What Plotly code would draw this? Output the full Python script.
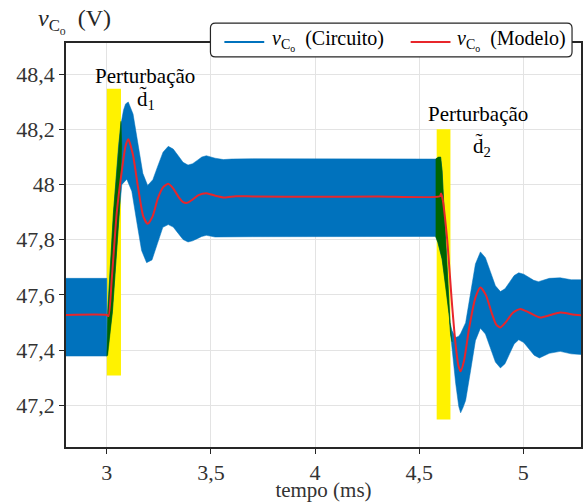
import plotly.graph_objects as go

# ---------------- data ----------------
# Circuit ripple band (upper / lower envelopes), time in ms, voltage in V
band_upper_t = [2.80, 3.000, 3.0001, 3.004, 3.032, 3.056, 3.068, 3.080, 3.090, 3.103,
                3.126, 3.150, 3.173, 3.196, 3.221, 3.245, 3.270, 3.295, 3.319, 3.343, 3.366, 3.390,
                3.412, 3.434, 3.456, 3.478, 3.520, 3.560, 3.600, 3.700, 4.579,
                4.592, 4.603, 4.610, 4.620, 4.635, 4.648, 4.658, 4.675, 4.690, 4.699,
                4.723, 4.747, 4.770, 4.794, 4.818, 4.842, 4.866, 4.890, 4.912, 4.934, 4.956, 4.978,
                5.002, 5.026, 5.050, 5.073, 5.125, 5.177, 5.230, 5.290]
band_upper_v = [47.660, 47.660, 47.390, 47.540, 47.900, 48.140, 48.220, 48.270, 48.293, 48.300,
                48.256, 48.149, 48.041, 47.997, 48.018, 48.068, 48.118, 48.139, 48.129, 48.105, 48.081, 48.071,
                48.076, 48.088, 48.100, 48.105, 48.096, 48.091, 48.093, 48.094, 48.093,
                48.098, 48.100, 48.050, 47.900, 47.680, 47.500, 47.470, 47.445, 47.450, 47.460,
                47.499, 47.606, 47.712, 47.756, 47.735, 47.684, 47.633, 47.612, 47.622, 47.646, 47.670, 47.680,
                47.675, 47.664, 47.653, 47.648, 47.660, 47.662, 47.655, 47.655]
band_lower_t = [2.80, 3.000, 3.027, 3.060, 3.072, 3.096, 3.120, 3.143, 3.167, 3.191,
                3.217, 3.243, 3.269, 3.295, 3.319, 3.342, 3.366, 3.390, 3.412, 3.434, 3.456, 3.478,
                3.520, 3.560, 3.700, 4.579, 4.590, 4.610, 4.630, 4.645, 4.651, 4.675, 4.690, 4.699, 4.710,
                4.723, 4.747, 4.770, 4.794, 4.818, 4.842, 4.866, 4.890, 4.912, 4.934, 4.956, 4.978,
                5.002, 5.027, 5.052, 5.077, 5.125, 5.177, 5.230, 5.290]
band_lower_v = [47.378, 47.378, 47.540, 47.900, 48.000, 48.020, 47.976, 47.869, 47.761, 47.717,
                47.727, 47.786, 47.845, 47.855, 47.846, 47.824, 47.801, 47.792, 47.796, 47.804, 47.812, 47.816,
                47.810, 47.812, 47.811, 47.812, 47.790, 47.730, 47.620, 47.520, 47.455, 47.280, 47.195, 47.172, 47.190,
                47.217, 47.326, 47.434, 47.479, 47.458, 47.407, 47.356, 47.335, 47.350, 47.386, 47.422, 47.437,
                47.427, 47.404, 47.381, 47.371, 47.388, 47.395, 47.386, 47.383]

# Circuit waveform during the perturbations (dark green region)
green1_t = [3.000, 3.005, 3.032, 3.056, 3.068, 3.072, 3.060, 3.027, 3.004]
green1_v = [47.377, 47.540, 47.900, 48.140, 48.230, 48.140, 47.900, 47.540, 47.380]
green2_t = [4.579, 4.592, 4.603, 4.610, 4.620, 4.635, 4.648, 4.656, 4.658, 4.651, 4.645, 4.630, 4.610, 4.590, 4.579]
green2_v = [48.093, 48.100, 48.100, 48.050, 47.900, 47.680, 47.500, 47.440, 47.430, 47.455, 47.520, 47.620, 47.730, 47.790, 47.812]

# Averaged model
model_t = [2.80, 3.000, 3.008, 3.024, 3.048, 3.072, 3.090, 3.103, 3.125, 3.150, 3.175, 3.196, 3.220,
           3.245, 3.270, 3.295, 3.320, 3.345, 3.366, 3.386, 3.410, 3.440, 3.478, 3.520, 3.566, 3.620,
           3.700, 4.000, 4.300, 4.600, 4.605, 4.612, 4.634, 4.658, 4.675, 4.688, 4.699, 4.715, 4.740,
           4.770, 4.794, 4.820, 4.850, 4.870, 4.890, 4.915, 4.950, 4.986, 5.030, 5.081, 5.130, 5.177,
           5.230, 5.290]
model_v = [47.527, 47.527, 47.523, 47.660, 47.900, 48.050, 48.140, 48.165, 48.110, 47.990, 47.885, 47.858, 47.885,
           47.950, 47.990, 48.003, 47.985, 47.955, 47.937, 47.934, 47.945, 47.962, 47.969, 47.960, 47.953, 47.958,
           47.957, 47.956, 47.957, 47.958, 47.968, 47.950, 47.804, 47.563, 47.419, 47.345, 47.323, 47.360, 47.480,
           47.590, 47.627, 47.600, 47.530, 47.492, 47.482, 47.500, 47.535, 47.549, 47.535, 47.518, 47.527, 47.536,
           47.530, 47.525]

# Perturbation windows (yellow)
pert_t0 = [3.000, 4.584]
pert_t1 = [3.068, 4.650]
pert_v0 = [47.307, 47.148]
pert_v1 = [48.348, 48.201]

x_tickvals = [3, 3.5, 4, 4.5, 5]
x_ticktext = ["3", "3,5", "4", "4,5", "5"]
y_tickvals = [47.2, 47.4, 47.6, 47.8, 48.0, 48.2, 48.4]
y_ticktext = ["47,2", "47,4", "47,6", "47,8", "48", "48,2", "48,4"]

series_names = ["<i>v</i><sub>C<sub>o</sub></sub>  (Circuito)", "<i>v</i><sub>C<sub>o</sub></sub>  (Modelo)"]

x_range = [2.804, 5.277]
y_range = [47.048, 48.514]

BLUE = "#0072BD"
RED = "#E8262B"
GREEN = "#006400"
YELLOW = "#FFF200"
AXC = "#262626"
FONT = "Liberation Serif, Times New Roman, serif"

fig = go.Figure()

# yellow windows
for a, b, lo, hi in zip(pert_t0, pert_t1, pert_v0, pert_v1):
    fig.add_trace(go.Scatter(x=[a, b, b, a, a], y=[lo, lo, hi, hi, lo], mode="lines",
                             fill="toself", fillcolor=YELLOW, line=dict(width=0),
                             showlegend=False, hoverinfo="skip"))

# blue ripple band
fig.add_trace(go.Scatter(x=band_upper_t + band_lower_t[::-1],
                         y=band_upper_v + band_lower_v[::-1],
                         mode="lines", fill="toself", fillcolor=BLUE,
                         line=dict(width=0.5, color=BLUE), name=series_names[0],
                         showlegend=False, hoverinfo="skip"))

# green transition regions
for gt, gv in ((green1_t, green1_v), (green2_t, green2_v)):
    fig.add_trace(go.Scatter(x=gt, y=gv, mode="lines", fill="toself", fillcolor=GREEN,
                             line=dict(width=0.5, color=GREEN), showlegend=False, hoverinfo="skip"))

# model
fig.add_trace(go.Scatter(x=model_t, y=model_v, mode="lines", name=series_names[1],
                         line=dict(color=RED, width=2, shape="spline", smoothing=0.6),
                         showlegend=False))

# pixel -> paper helpers for the legend box
L, R, T, B = 66.0, 583.0, 43.0, 449.0
def px(x):
    return (x - L) / (R - L)
def py(y):
    return (B - y) / (B - T)

bx0, bx1, by0, by1 = px(211), px(574), py(57), py(23)
rx, ry = 5 / (R - L), 5 / (B - T)
path = (f"M {bx0+rx},{by1} L {bx1-rx},{by1} Q {bx1},{by1} {bx1},{by1-ry} "
        f"L {bx1},{by0+ry} Q {bx1},{by0} {bx1-rx},{by0} L {bx0+rx},{by0} "
        f"Q {bx0},{by0} {bx0},{by0+ry} L {bx0},{by1-ry} Q {bx0},{by1} {bx0+rx},{by1} Z")
fig.add_shape(type="path", path=path, xref="paper", yref="paper",
              fillcolor="white", line=dict(color=AXC, width=1.2), layer="above")

# legend samples and labels
for (x0, x1, xt), col, name in zip([(225, 265, 271), (412, 452, 457)], [BLUE, RED], series_names):
    fig.add_shape(type="line", xref="paper", yref="paper", x0=px(x0), x1=px(x1),
                  y0=py(42), y1=py(42), line=dict(color=col, width=2), layer="above")
    fig.add_annotation(x=px(xt), y=py(40), xref="paper", yref="paper", showarrow=False,
                       xanchor="left", yanchor="middle", text=name,
                       font=dict(family=FONT, size=20, color="black"))

annots = [
    dict(x=3.183, y=48.396, text="Perturbação"),
    dict(x=3.19, y=48.31, text="d̃<sub>1</sub>"),
    dict(x=4.780, y=48.255, text="Perturbação"),
    dict(x=4.80, y=48.14, text="d̃<sub>2</sub>"),
]
for a in annots:
    fig.add_annotation(x=a["x"], y=a["y"], text=a["text"], showarrow=False,
                       xanchor="center", yanchor="middle",
                       xref="x", yref="y", font=dict(family=FONT, size=21, color="black"))

fig.add_annotation(x=px(36), y=py(21), xref="paper", yref="paper", showarrow=False,
                   xanchor="left", yanchor="middle",
                   text="<i>v</i><sub>C<sub>o</sub></sub>&nbsp;&nbsp;(V)",
                   font=dict(family=FONT, size=24, color=AXC))

axis_common = dict(showline=True, linecolor=AXC, linewidth=1.5, mirror=True,
                   gridcolor="#E3E3E3", gridwidth=1, zeroline=False,
                   ticks="outside", ticklen=5, tickcolor=AXC, tickwidth=1.2,
                   tickfont=dict(family=FONT, size=22, color="#333333"))

fig.update_layout(
    width=585, height=502,
    margin=dict(l=66, r=2, t=43, b=53),
    paper_bgcolor="white", plot_bgcolor="white",
    font=dict(family=FONT, size=21, color="#333333"),
    showlegend=False,
    xaxis=dict(range=x_range, tickvals=x_tickvals, ticktext=x_ticktext,
               title=dict(text="tempo (ms)", standoff=0, font=dict(family=FONT, size=21, color="#333333")),
               **axis_common),
    yaxis=dict(range=y_range, tickvals=y_tickvals, ticktext=y_ticktext, **axis_common),
    xaxis2=dict(range=x_range, overlaying="x", side="top", anchor="y", tickvals=x_tickvals,
                showticklabels=False, ticks="inside", ticklen=5, tickcolor=AXC, showgrid=False,
                showline=False, zeroline=False),
    yaxis2=dict(range=y_range, overlaying="y", side="right", anchor="x", tickvals=y_tickvals,
                showticklabels=False, ticks="inside", ticklen=5, tickcolor=AXC, showgrid=False,
                showline=False, zeroline=False),
)

fig.write_html("out.html")
